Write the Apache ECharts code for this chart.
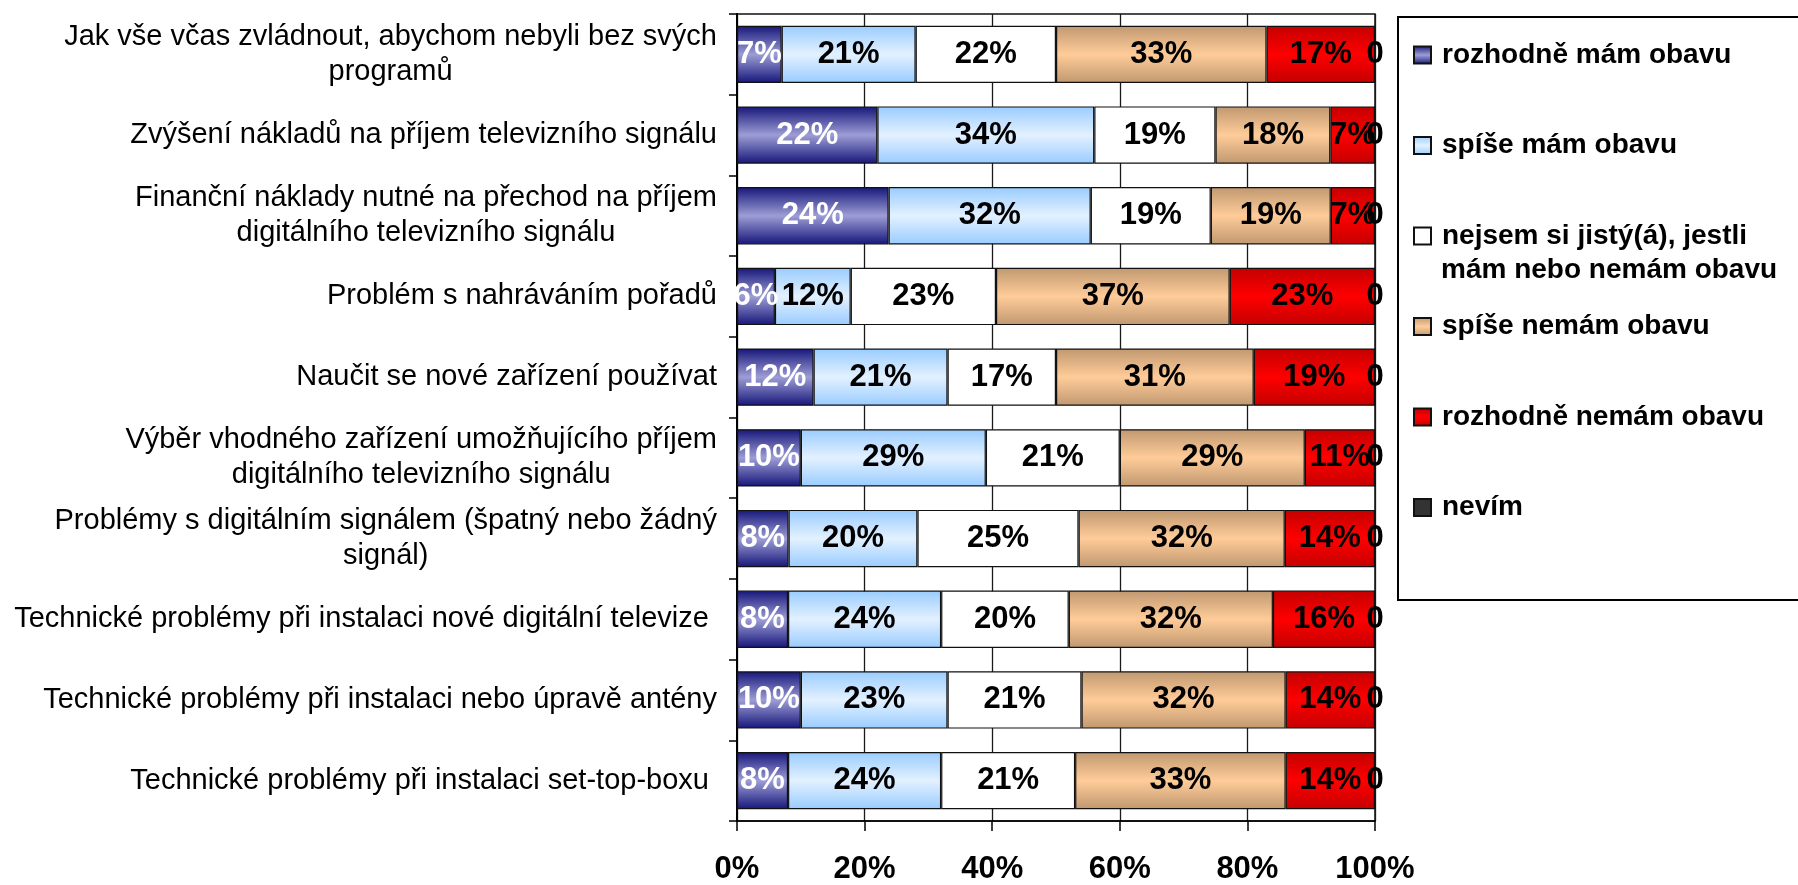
<!DOCTYPE html>
<html>
<head>
<meta charset="utf-8">
<script src="https://cdn.jsdelivr.net/npm/echarts@6/dist/echarts.min.js"></script>
<style>
  html, body { margin: 0; padding: 0; background: #fff; }
  #chart { width: 1798px; height: 885px; }
</style>
</head>
<body>
<div id="chart"></div>
<script>
// Survey questions (top to bottom)
const categories = [
  'Jak vše včas zvládnout, abychom nebyli bez svých\nprogramů',
  'Zvýšení nákladů na příjem televizního signálu',
  'Finanční náklady nutné na přechod na příjem\ndigitálního televizního signálu',
  'Problém s nahráváním pořadů',
  'Naučit se nové zařízení používat',
  'Výběr vhodného zařízení umožňujícího příjem\ndigitálního televizního signálu',
  'Problémy s digitálním signálem (špatný nebo žádný\nsignál)',
  'Technické problémy při instalaci nové digitální televize ',
  'Technické problémy při instalaci nebo úpravě antény',
  'Technické problémy při instalaci set-top-boxu '
];

// Answer categories (legend order)
const answerNames = [
  'rozhodně mám obavu',
  'spíše mám obavu',
  'nejsem si jistý(á), jestli\nmám nebo nemám obavu',
  'spíše nemám obavu',
  'rozhodně nemám obavu',
  'nevím'
];

// Shares of respondents in % (one value per question, same order as categories)
const rozhodneMam   = [7, 22, 24, 6, 12, 10, 8, 8, 10, 8];
const spiseMam      = [21, 34, 32, 12, 21, 29, 20, 24, 23, 24];
const nejsemSi      = [22, 19, 19, 23, 17, 21, 25, 20, 21, 21];
const spiseNemam    = [33, 18, 19, 37, 31, 29, 32, 32, 32, 33];
const rozhodneNemam = [17, 7, 7, 23, 19, 11, 14, 16, 14, 14];
const nevim         = [0, 0, 0, 0, 0, 0, 0, 0, 0, 0];

const seriesValues = [rozhodneMam, spiseMam, nejsemSi, spiseNemam, rozhodneNemam, nevim];

const FONT = "'Liberation Sans', Arial, Helvetica, sans-serif";

function band(edge, mid) {
  return {
    type: 'linear', x: 0, y: 0, x2: 0, y2: 1,
    colorStops: [
      { offset: 0, color: edge },
      { offset: 0.5, color: mid },
      { offset: 1, color: edge }
    ]
  };
}

const fills = [
  band('#16167a', '#9d9dd6'),
  band('#99ccff', '#e3f1ff'),
  '#ffffff',
  band('#c09870', '#ffcc99'),
  band('#c40000', '#ff0000'),
  '#333333'
];
const labelColors = ['#ffffff', '#000000', '#000000', '#000000', '#000000', '#000000'];

// 100 % stacked: each row is scaled to its own total
const rowTotals = categories.map((_, j) =>
  seriesValues.reduce((s, arr) => s + arr[j], 0));

const series = seriesValues.map((arr, i) => ({
  name: answerNames[i],
  type: 'bar',
  stack: 'share',
  barCategoryGap: '29%',
  data: arr.map((v, j) => ({ value: v / rowTotals[j] * 100, raw: v })),
  itemStyle: { color: fills[i], borderColor: '#111', borderWidth: 1.2 },
  label: {
    show: true,
    position: 'inside',
    color: labelColors[i],
    fontFamily: FONT,
    fontWeight: 'bold',
    fontSize: 31,
    formatter: p => i === 5 ? String(p.data.raw) : p.data.raw + '%'
  },
  emphasis: { disabled: true }
}));

const chart = echarts.init(document.getElementById('chart'), null, { renderer: 'canvas' });

chart.setOption({
  animation: false,
  backgroundColor: '#ffffff',
  grid: {
    left: 737, right: 423, top: 14, bottom: 62,
    show: true, borderColor: '#111', borderWidth: 1.5, backgroundColor: 'transparent'
  },
  xAxis: {
    type: 'value',
    min: 0, max: 100, interval: 20,
    axisLine: { show: true, lineStyle: { color: '#000', width: 1.5 } },
    axisTick: { show: true, length: 10, lineStyle: { color: '#000', width: 1.5 } },
    splitLine: { show: true, lineStyle: { color: '#1a1a1a', width: 1.3 } },
    axisLabel: {
      margin: 33,
      color: '#000', fontFamily: FONT, fontWeight: 'bold', fontSize: 31,
      formatter: '{value}%'
    }
  },
  yAxis: {
    type: 'category',
    inverse: true,
    data: categories,
    axisLine: { show: true, lineStyle: { color: '#000', width: 2 } },
    axisTick: { show: true, length: 8, interval: 0, lineStyle: { color: '#000', width: 1.5 } },
    axisLabel: {
      interval: 0,
      margin: 20,
      color: '#000',
      fontFamily: FONT,
      fontSize: 29,
      lineHeight: 35,
      formatter: v => v.split('\n').map(l => '{c|' + l + '}').join('\n'),
      rich: {
        c: { align: 'center', fontFamily: FONT, fontSize: 29, lineHeight: 35, color: '#000' }
      }
    }
  },
  legend: {
    orient: 'vertical',
    left: 1413,
    top: 39,
    padding: 0,
    itemWidth: 17,
    itemHeight: 17,
    itemGap: 58.5,
    icon: 'rect',
    selectedMode: false,
    data: answerNames,
    formatter: name => name.split('\n')[0],
    textStyle: {
      color: '#000', fontFamily: FONT, fontWeight: 'bold', fontSize: 28, lineHeight: 32,
      padding: [0, 0, 0, 6]
    }
  },
  graphic: [
    {
      type: 'rect',
      z: 0,
      shape: { x: 1398, y: 17, width: 430, height: 583 },
      style: { fill: '#ffffff', stroke: '#000', lineWidth: 2 }
    },
    {
      type: 'text',
      z: 5,
      x: 1441,
      y: 270,
      style: {
        text: answerNames[2].split('\n')[1],
        fill: '#000',
        fontFamily: FONT,
        fontWeight: 'bold',
        fontSize: 28,
        verticalAlign: 'middle'
      }
    }
  ],
  series: series
});
</script>
</body>
</html>
